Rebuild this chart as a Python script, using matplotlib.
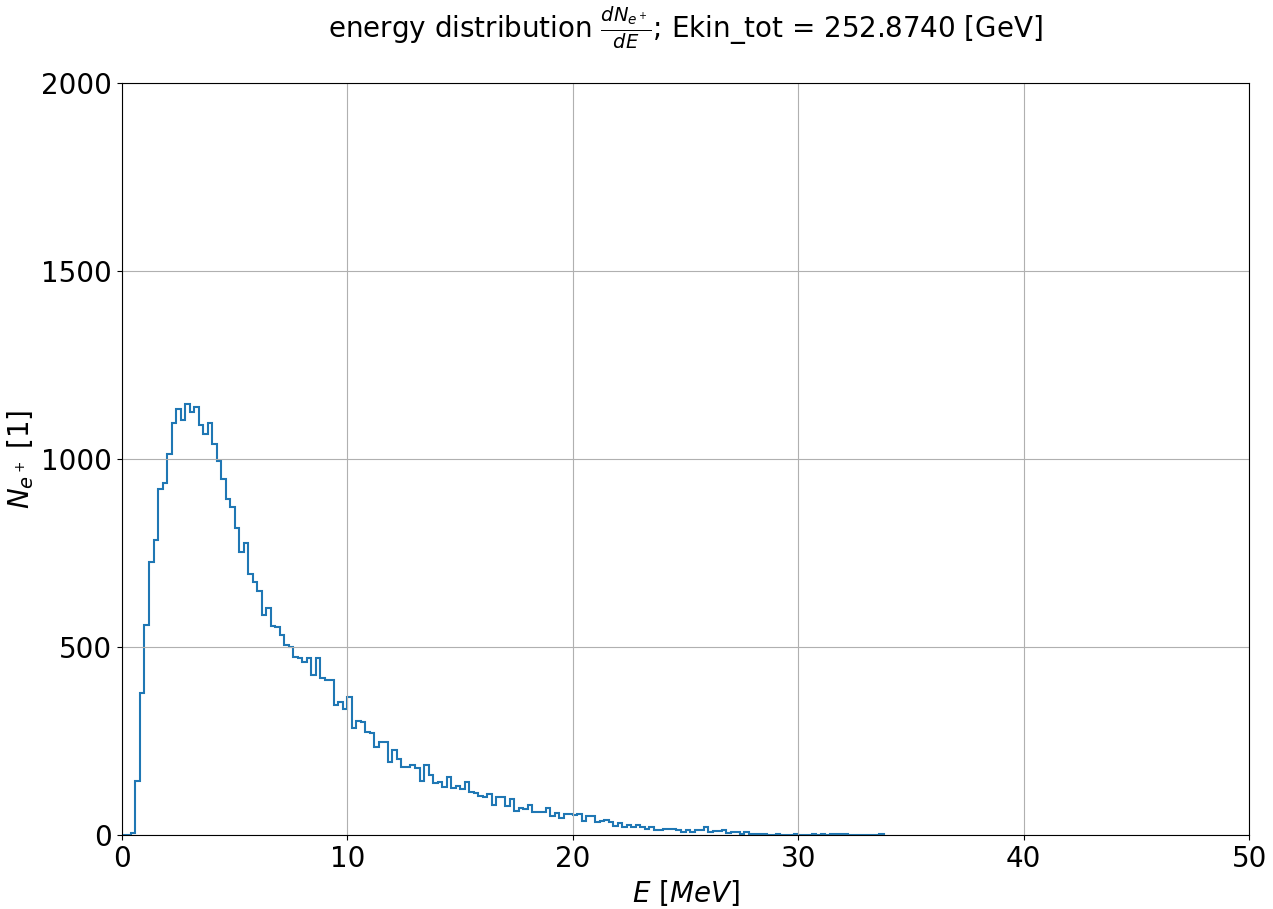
import numpy as np
import matplotlib
matplotlib.use('Agg')
import matplotlib.pyplot as plt

# histogram of positron energies, 0.2 MeV bins
bin_width = 0.2
n_e = [0, 0, 5, 143, 377, 558, 725, 784, 921, 936,
       1013, 1096, 1134, 1103, 1147, 1124, 1137, 1090, 1066, 1096,
       1040, 994, 948, 894, 872, 816, 752, 776, 694, 674,
       648, 586, 603, 557, 552, 533, 506, 501, 474, 472,
       459, 470, 426, 470, 417, 411, 411, 347, 355, 336,
       367, 285, 304, 300, 273, 271, 233, 248, 248, 193,
       227, 202, 182, 180, 187, 178, 143, 187, 160, 137,
       140, 128, 155, 126, 130, 122, 140, 115, 112, 105,
       100, 110, 81, 100, 100, 76, 95, 63, 71, 69,
       81, 60, 60, 60, 71, 50, 58, 45, 57, 57,
       54, 57, 38, 50, 50, 35, 38, 40, 35, 25,
       33, 21, 27, 21, 27, 20, 15, 21, 13, 14,
       15, 15, 17, 14, 7, 14, 8, 13, 14, 20,
       8, 10, 11, 12, 5, 7, 7, 4, 7, 4,
       4, 4, 4, 1, 1, 4, 1, 1, 1, 4,
       1, 1, 1, 4, 1, 4, 1, 2, 2, 2,
       2, 0, 0, 0, 0, 0, 0, 0, 2]
n_e = np.array(n_e)
edges = np.arange(len(n_e) + 1) * bin_width

fig = plt.figure(figsize=(12.73, 9.09), dpi=100)
ax = fig.add_axes([0.0958, 0.0814, 0.8854, 0.8273])
ax.stairs(n_e, edges, color='#1f77b4', linewidth=1.5)
ax.set_xlim(0, 50)
ax.set_ylim(0, 2000)
ax.set_xticks([0, 10, 20, 30, 40, 50])
ax.set_yticks([0, 500, 1000, 1500, 2000])
ax.grid(True)
ax.tick_params(labelsize=20)
ax.set_xlabel(r'$E\ [MeV]$', fontsize=20)
ax.set_ylabel(r'$N_{e^+}$ [1]', fontsize=20)
ax.set_title(r'energy distribution $\frac{dN_{e^+}}{dE}$; Ekin_tot = 252.8740 [GeV]',
             fontsize=20, pad=33)
fig.savefig('out.png', dpi=100)
